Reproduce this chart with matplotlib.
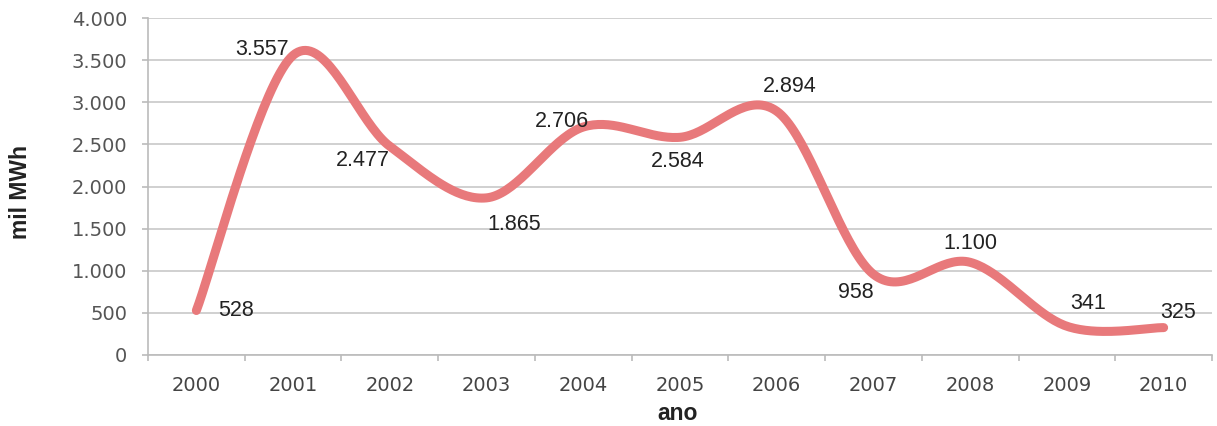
import numpy as np
import matplotlib
matplotlib.use("Agg")
import matplotlib.pyplot as plt

years = ["2000", "2001", "2002", "2003", "2004", "2005", "2006", "2007", "2008", "2009", "2010"]
values = [528, 3557, 2477, 1865, 2706, 2584, 2894, 958, 1100, 341, 325]
labels = ["528", "3.557", "2.477", "1.865", "2.706", "2.584", "2.894", "958", "1.100", "341", "325"]
yticks = [0, 500, 1000, 1500, 2000, 2500, 3000, 3500, 4000]
ytick_labels = ["0", "500", "1.000", "1.500", "2.000", "2.500", "3.000", "3.500", "4.000"]

# label placement: offset in pixels (dx, dy), horizontal / vertical alignment
offsets = [(22, -5, "left", "baseline"), (-4, 0, "right", "baseline"), (0, -4, "right", "top"),
           (1, -16, "left", "top"), (6, 0, "right", "baseline"), (-2, -14, "center", "top"),
           (13, 19, "center", "baseline"), (0, -8, "right", "top"), (0, 13, "center", "baseline"),
           (3, 17, "left", "baseline"), (-3, 10, "left", "baseline")]

def catmull_rom(x, y, n=40):
    x = np.asarray(x, float); y = np.asarray(y, float)
    px = np.concatenate([[x[0]], x, [x[-1]]])
    py = np.concatenate([[y[0]], y, [y[-1]]])
    xs, ys = [], []
    t = np.linspace(0, 1, n)
    for i in range(1, len(px) - 2):
        p0 = np.array([px[i], py[i]]); p3 = np.array([px[i + 1], py[i + 1]])
        c1 = p0 + (np.array([px[i + 1], py[i + 1]]) - np.array([px[i - 1], py[i - 1]])) / 6
        c2 = p3 - (np.array([px[i + 2], py[i + 2]]) - np.array([px[i], py[i]])) / 6
        b = ((1 - t) ** 3)[:, None] * p0 + (3 * (1 - t) ** 2 * t)[:, None] * c1 + \
            (3 * (1 - t) * t ** 2)[:, None] * c2 + (t ** 3)[:, None] * p3
        xs.append(b[:, 0]); ys.append(b[:, 1])
    return np.concatenate(xs), np.concatenate(ys)

PX = 72.0 / 100.0  # points per pixel

fig = plt.figure(figsize=(12.17, 4.26), dpi=100)
ax = fig.add_axes([148 / 1217, 71 / 426, 1064 / 1217, 337 / 426])

x = np.arange(len(years))
sx, sy = catmull_rom(x, np.array(values) / 500.0)
ax.plot(sx, sy * 500.0, color="#E8797B", lw=6.5, solid_capstyle="round", zorder=3)

for xi, v, lab, (dx, dy, ha, va) in zip(x, values, labels, offsets):
    ax.annotate(lab, (xi, v), xytext=(dx * PX, dy * PX), textcoords="offset points",
                ha=ha, va=va, fontsize=15.5, color="#222222", family="Liberation Sans", zorder=4)

ax.set_xlim(-0.5, len(years) - 0.5)
ax.set_ylim(0, 4000)
ax.set_yticks(yticks)
ax.set_yticklabels(ytick_labels)
ax.set_xticks(x)
ax.set_xticklabels(years)
ax.set_xticks(np.arange(-0.5, len(years)), minor=True)
ax.tick_params(axis="x", which="major", length=0, pad=15, labelsize=14, labelcolor="#444444")
ax.tick_params(axis="x", which="minor", length=4, color="#bbbbbb", width=1.2)
ax.tick_params(axis="y", length=4, color="#bbbbbb", width=1.2, pad=11, labelsize=14, labelcolor="#555555")
ax.grid(axis="y", color="#c8c8c8", lw=1.2, zorder=0)
for s in ["top", "right"]:
    ax.spines[s].set_visible(False)
for s in ["left", "bottom"]:
    ax.spines[s].set_color("#bbbbbb")
    ax.spines[s].set_linewidth(1.2)
ax.set_axisbelow(True)

ax.set_ylabel("mil MWh", fontsize=16.5, fontweight="bold", color="#222222", family="Liberation Sans")
ax.yaxis.label.set_va("center")
ax.yaxis.set_label_coords((21 - 148) / 1064, (355 - 192) / 337)
ax.set_xlabel("ano", fontsize=16.5, fontweight="bold", color="#222222", family="Liberation Sans")
ax.xaxis.label.set_va("center")
ax.xaxis.set_label_coords((678 - 148) / 1064, (355 - 413) / 337)

fig.savefig("out.png", dpi=100)
